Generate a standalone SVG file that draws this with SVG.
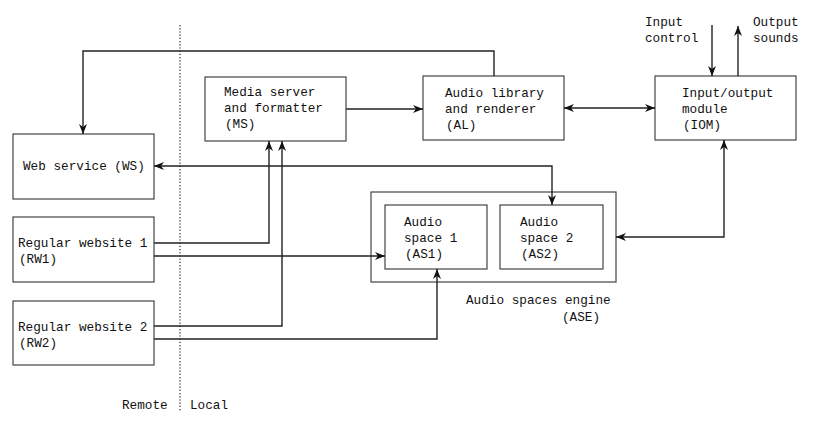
<svg xmlns="http://www.w3.org/2000/svg" width="815" height="433" viewBox="0 0 815 433">
<defs>
<style>
.box{fill:#fff;stroke:#444;stroke-width:1.2}
.t{font-family:"Liberation Mono","DejaVu Sans Mono",monospace;font-size:12.7px;fill:#111}
.c{fill:none;stroke:#222;stroke-width:1.4}
.dot{fill:none;stroke:#222;stroke-width:1.2;stroke-dasharray:1.2 2}
</style>
<marker id="ah" viewBox="0 0 10 8" refX="10" refY="4" markerWidth="10" markerHeight="8" markerUnits="userSpaceOnUse" orient="auto-start-reverse">
<path d="M0,0 L10,4 L0,8 L3,4 Z" fill="#111"/>
</marker>
</defs>
<rect width="815" height="433" fill="#fff"/>
<line class="dot" x1="180" y1="25" x2="180" y2="412"/>
<text class="t" x="122" y="409">Remote</text>
<text class="t" x="190" y="409">Local</text>
<g id="ws"><rect class="box" x="13" y="134" width="141" height="65"/><text class="t" x="23" y="170">Web service (WS)</text></g>
<g id="rw1"><rect class="box" x="13" y="217" width="141" height="65"/><text class="t" x="18" y="247">Regular website 1</text><text class="t" x="19" y="263">(RW1)</text></g>
<g id="rw2"><rect class="box" x="13" y="301" width="141" height="64"/><text class="t" x="18" y="331">Regular website 2</text><text class="t" x="19" y="347">(RW2)</text></g>
<g id="ms"><rect class="box" x="205" y="77" width="141" height="64"/><text class="t" x="224" y="96">Media server</text><text class="t" x="224" y="112">and formatter</text><text class="t" x="225" y="128">(MS)</text></g>
<g id="al"><rect class="box" x="423" y="76" width="141" height="64"/><text class="t" x="445" y="97">Audio library</text><text class="t" x="445" y="113">and renderer</text><text class="t" x="446" y="129">(AL)</text></g>
<g id="iom"><rect class="box" x="655" y="76" width="141" height="64"/><text class="t" x="682" y="97">Input/output</text><text class="t" x="682" y="113">module</text><text class="t" x="683" y="129">(IOM)</text></g>
<g id="io-labels"><text class="t" x="645" y="26">Input</text><text class="t" x="645" y="42">control</text><text class="t" x="753" y="26">Output</text><text class="t" x="753" y="42">sounds</text></g>
<g id="ase"><rect class="box" x="371" y="192" width="245" height="90"/><text class="t" x="466" y="304">Audio spaces engine</text><text class="t" x="562" y="321">(ASE)</text></g>
<g id="as1"><rect class="box" x="385" y="205" width="102" height="64"/><text class="t" x="404" y="226">Audio</text><text class="t" x="404" y="242">space 1</text><text class="t" x="405" y="258">(AS1)</text></g>
<g id="as2"><rect class="box" x="500" y="205" width="103" height="64"/><text class="t" x="520" y="226">Audio</text><text class="t" x="520" y="242">space 2</text><text class="t" x="521" y="258">(AS2)</text></g>
<g id="connectors">
<path class="c" d="M494,76 L494,51 L83,51 L83,134" marker-end="url(#ah)"/>
<path class="c" d="M346,109 L423,109" marker-end="url(#ah)"/>
<path class="c" d="M564,108 L655,108" marker-start="url(#ah)" marker-end="url(#ah)"/>
<path class="c" d="M712,25 L712,76" marker-end="url(#ah)"/>
<path class="c" d="M738,76 L738,26" marker-end="url(#ah)"/>
<path class="c" d="M154,166 L552,166 L552,205" marker-start="url(#ah)" marker-end="url(#ah)"/>
<path class="c" d="M724,140 L724,237 L616,237" marker-start="url(#ah)" marker-end="url(#ah)"/>
<path class="c" d="M154,243 L269,243 L269,141" marker-end="url(#ah)"/>
<path class="c" d="M154,256 L385,256" marker-end="url(#ah)"/>
<path class="c" d="M154,326 L282,326 L282,141" marker-end="url(#ah)"/>
<path class="c" d="M154,339 L437,339 L437,269" marker-end="url(#ah)"/>
</g>
</svg>
